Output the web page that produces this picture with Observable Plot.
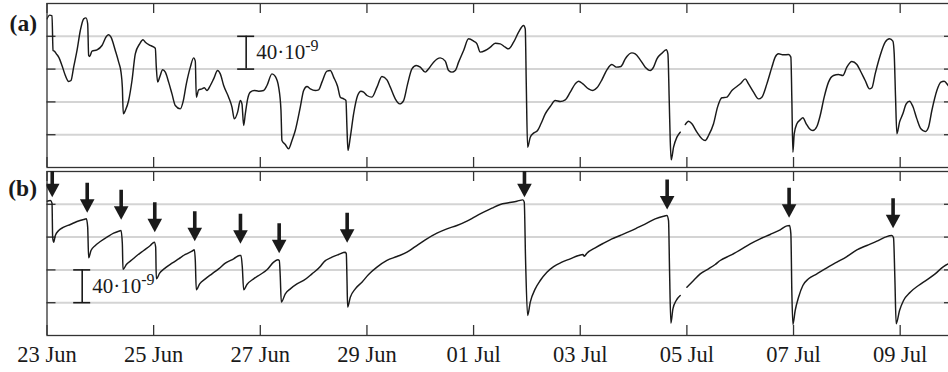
<!DOCTYPE html>
<html><head><meta charset="utf-8">
<script src="https://cdn.jsdelivr.net/npm/d3@7"></script>
<script src="https://cdn.jsdelivr.net/npm/@observablehq/plot@0.6"></script>
<style>
html,body{margin:0;padding:0;background:#fff;overflow:hidden;}
#wrap{width:948px;height:372px;overflow:hidden;position:relative;background:#fff;}
#wrap svg{display:block;}
</style></head><body><div id="wrap"></div>
<script>
// ---------- data (days after 23 Jun 00:00 UTC, values in units of 1e-9) ----------
const tickDays = [0, 2, 4, 6, 8, 10, 12, 14, 16];
const tickLabels = ["23 Jun", "25 Jun", "27 Jun", "29 Jun", "01 Jul", "03 Jul", "05 Jul", "07 Jul", "09 Jul"];
const gridValues = [40, 80, 120, 160];
const panelLabels = ["(a)", "(b)"];
const scaleText = "40·10-9";
const scaleDayA = 3.735, scaleLoA = 120, scaleHiA = 160;
const scaleDayB = 0.660, scaleLoB = 40, scaleHiB = 80;

const aDay = [0.000,0.050,0.094,0.113,0.138,0.175,0.219,0.281,0.344,0.406,0.450,0.500,0.563,0.625,0.688,0.731,0.763,0.781,0.800,0.844,0.938,1.031,1.113,1.156,1.200,1.281,1.344,1.388,1.413,1.431,1.469,1.531,1.594,1.656,1.738,1.800,1.844,1.938,2.031,2.050,2.075,2.113,2.169,2.219,2.281,2.344,2.406,2.500,2.550,2.613,2.688,2.750,2.781,2.800,2.844,2.906,2.950,3.000,3.063,3.125,3.200,3.250,3.313,3.406,3.469,3.513,3.575,3.625,3.656,3.688,3.719,3.763,3.813,3.888,3.969,4.063,4.125,4.219,4.281,4.344,4.388,4.406,4.469,4.531,4.594,4.656,4.750,4.813,4.875,4.938,5.031,5.094,
5.156,5.250,5.313,5.375,5.450,5.500,5.563,5.606,5.625,5.644,5.688,5.750,5.825,5.888,5.938,6.000,6.094,6.188,6.281,6.375,6.438,6.531,6.613,6.688,6.763,6.844,6.925,7.000,7.094,7.156,7.250,7.375,7.469,7.531,7.594,7.656,7.719,7.813,7.906,8.000,8.063,8.125,8.219,8.313,8.406,8.500,8.594,8.656,8.750,8.844,8.938,8.969,8.988,9.013,9.063,9.125,9.200,9.263,9.344,9.438,9.531,9.625,9.719,9.813,9.906,9.969,10.050,10.156,10.238,10.313,10.406,10.500,10.594,10.675,10.763,10.844,
10.875,10.969,11.031,11.125,11.219,11.313,11.375,11.438,11.531,11.613,11.644,11.669,11.688,11.706,11.750,11.813,11.875,11.920,11.969,12.031,12.094,12.188,12.281,12.344,12.406,12.500,12.575,12.656,12.750,12.844,12.938,13.013,13.094,13.156,13.250,13.344,13.406,13.500,13.594,13.656,13.719,13.813,13.906,13.950,13.969,13.988,14.013,14.063,14.125,14.175,14.238,14.300,14.363,14.438,14.500,14.575,14.656,14.750,14.844,14.925,15.000,15.094,15.188,15.250,15.344,15.425,15.469,15.531,15.625,15.719,15.800,15.863,15.888,15.913,15.938,15.988,16.050,16.113,16.175,16.238,16.313,16.388,16.469,16.531,16.594,16.688,16.763,16.825,16.900,16.938];
const aVal = [181.3,185.8,185.0,142.7,141.9,138.6,134.6,124.4,112.2,104.9,106.1,122.4,142.7,167.1,181.3,182.5,175.2,136.6,135.4,141.9,143.5,148.8,159.8,161.8,158.9,142.7,128.5,116.3,98.0,65.4,69.5,81.7,106.1,138.6,150.8,155.7,152.8,148.8,145.5,122.4,104.1,110.2,119.1,116.3,104.1,89.8,75.6,71.5,79.7,102.0,122.4,133.7,129.7,85.8,94.7,95.9,97.2,93.9,100.0,108.1,118.3,114.2,100.0,85.8,73.6,59.3,67.5,81.7,77.6,51.2,65.4,83.7,91.9,93.9,93.1,93.9,100.0,114.2,111.0,98.0,69.5,32.9,28.0,22.8,32.9,45.1,73.6,93.9,98.8,95.9,93.9,94.7,
104.1,117.5,118.3,110.2,98.8,85.8,83.7,81.7,49.2,20.7,37.0,65.4,87.8,93.1,91.9,87.8,85.8,98.0,111.0,106.9,98.0,83.7,77.6,81.7,102.0,120.3,124.4,122.4,116.3,120.3,128.5,133.7,129.7,118.3,116.3,118.3,128.5,142.7,156.9,154.1,150.8,140.7,142.7,146.7,151.6,150.8,146.7,144.7,152.8,165.0,173.2,169.1,102.0,24.8,37.0,41.9,45.1,53.3,65.4,74.4,81.7,80.5,82.5,91.9,102.0,105.3,102.0,95.9,93.9,97.2,106.9,119.1,125.6,122.4,123.2,132.5,
135.4,139.8,138.6,131.3,122.4,118.3,122.4,132.5,139.4,143.5,138.6,81.7,32.9,9.3,24.8,37.0,43.1,null,52.4,56.5,53.3,43.1,35.0,32.9,39.0,53.3,73.6,85.0,85.8,93.9,98.8,102.8,108.1,102.0,91.9,83.7,85.8,102.0,122.4,134.6,138.6,137.4,137.8,134.6,81.7,18.7,41.1,53.3,58.1,60.6,53.3,47.2,45.1,50.0,63.4,85.8,104.1,112.2,113.4,112.2,122.4,129.3,125.6,118.3,106.1,95.9,97.2,114.2,136.6,152.8,156.9,154.1,138.6,85.8,41.1,55.3,65.4,77.6,80.9,74.4,59.3,47.2,43.9,49.2,69.5,93.9,104.1,105.3,100.0,97.2];

const bDay = [0.000,0.063,0.094,0.106,0.125,0.156,0.219,0.313,0.438,0.563,0.688,0.738,0.763,0.781,0.825,0.906,1.000,1.125,1.250,1.344,1.388,1.413,1.425,1.488,1.594,1.688,1.813,1.938,2.013,2.038,2.050,2.113,2.219,2.344,2.469,2.594,2.719,2.763,2.781,2.800,2.863,2.969,3.094,3.219,3.344,3.500,3.613,3.638,3.663,3.688,3.750,3.875,4.000,4.125,4.250,4.331,4.356,4.375,4.394,4.469,4.563,4.688,4.813,4.969,5.125,
5.188,5.344,5.469,5.594,5.613,5.625,5.638,5.688,5.781,5.906,6.031,6.188,6.375,6.563,6.750,6.906,7.094,7.313,7.500,7.688,7.875,8.031,8.188,8.344,8.500,8.656,8.813,8.925,8.950,8.975,9.013,9.063,9.156,9.250,9.375,9.500,9.656,9.813,9.969,10.050,10.075,10.125,10.281,10.438,10.594,10.750,
10.938,11.094,11.250,11.406,11.563,11.625,11.656,11.675,11.700,11.738,11.800,11.875,11.930,12.000,12.125,12.250,12.406,12.531,12.625,12.813,13.000,13.188,13.375,13.563,13.750,13.875,13.925,13.950,13.969,13.988,14.031,14.094,14.175,14.281,14.438,14.625,14.813,15.000,15.188,15.375,15.563,15.719,15.844,15.875,15.900,15.925,15.988,16.063,16.188,16.344,16.500,16.656,16.813,16.900,16.969];
const bVal = [163.8,164.6,161.4,119.9,113.8,122.0,128.0,132.1,135.4,139.0,141.5,142.3,132.1,94.7,103.7,109.8,114.6,119.9,124.8,127.2,128.0,111.8,80.5,86.6,92.3,97.6,103.7,109.8,113.8,107.7,69.1,76.0,82.5,88.2,93.5,98.8,102.8,104.5,91.5,55.7,63.0,69.1,75.2,81.3,88.2,93.5,97.6,97.6,83.3,55.7,62.2,69.1,74.4,80.1,89.4,92.3,91.5,71.1,40.7,50.8,56.9,63.0,67.1,75.2,84.1,
89.4,95.5,98.8,101.6,99.6,71.1,34.6,46.7,56.9,65.0,74.4,83.3,91.5,96.3,101.6,108.5,116.7,124.8,130.1,134.1,139.4,145.1,150.4,155.3,159.8,161.8,163.8,165.4,162.6,91.5,24.4,40.7,56.9,67.1,77.2,84.1,89.4,93.5,97.6,98.8,96.7,100.4,106.9,112.6,117.9,122.0,
127.2,132.1,137.0,142.3,145.5,146.3,140.2,79.3,15.0,32.5,42.7,48.8,null,58.9,67.1,75.2,81.3,86.6,91.5,97.6,104.5,111.8,117.9,123.2,128.9,133.7,134.1,124.0,50.8,13.4,30.5,46.7,61.0,69.1,75.2,82.5,89.4,96.3,104.5,109.8,115.0,119.9,122.0,119.1,71.1,14.2,30.5,42.7,52.8,61.0,67.9,75.2,84.1,87.4,89.4];

// arrows in panel (b): day and tip value
const arrowDay = [0.098, 0.754, 1.391, 2.021, 2.771, 3.628, 4.354, 5.629, 8.954, 11.630, 13.917, 15.867];
const arrowTip = [168.7, 149.6, 141.1, 126.0, 115.0, 111.8, 100.4, 113.0, 168.7, 153.7, 143.5, 130.9];

// ---------- layout ----------
const START = Date.UTC(2015, 5, 23);
const DAY = 864e5;
const END_DAY = 17;
const W = 953, ML = 46.5, MR = 0;
const FRAME_H = 164, Y_MAX = 200;
const pxPerDay = (W - ML - MR) / END_DAY;
const pxPerUnit = FRAME_H / Y_MAX;
const toDate = d => new Date(START + d * DAY);
const serif = "'Liberation Serif', 'Times New Roman', Times, serif";
const INK = "#1a1a1a";

const tickDates = tickDays.map(toDate);
const labelByTime = new Map(tickDates.map((t, i) => [+t, tickLabels[i]]));
const xDomain = [toDate(0), toDate(END_DAY)];

const downTriangle = {
  draw(ctx) { const w = 7.3, h = 13.5; ctx.moveTo(0, 0); ctx.lineTo(-w, -h); ctx.lineTo(w, -h); ctx.closePath(); }
};

function panel({height, marginTop, marginBottom, days, vals, label, labelDy, sDay, sLo, sHi, arrows, axis}) {
  const series = days.map((d, i) => ({t: toDate(d), v: vals[i]}));
  const tickLenY = 10 / pxPerUnit;          // inward x-tick length (value units)
  const tickLenX = 9 / pxPerDay * DAY;      // inward y-tick length (ms)
  const capHalf = 8.5 / pxPerDay;           // scale-bar cap half-width (days)
  const marks = [
    Plot.ruleY(gridValues, {stroke: "#d4d4d4", strokeWidth: 2}),
    Plot.ruleX(tickDates, {x: d => d, y1: Y_MAX, y2: Y_MAX - tickLenY, stroke: "#333", strokeWidth: 1.3}),
    Plot.ruleX(tickDates, {x: d => d, y1: 0, y2: tickLenY, stroke: "#333", strokeWidth: 1.3}),
    Plot.ruleY(gridValues, {y: d => d, x1: xDomain[0], x2: new Date(+xDomain[0] + tickLenX), stroke: "#333", strokeWidth: 1.3}),
    Plot.ruleY(gridValues, {y: d => d, x1: xDomain[1], x2: new Date(+xDomain[1] - tickLenX), stroke: "#333", strokeWidth: 1.3}),
    Plot.line(series, {x: "t", y: "v", stroke: INK, strokeWidth: 1.45, curve: "monotone-x", clip: true}),
    Plot.ruleX([sDay], {x: d => toDate(d), y1: sLo, y2: sHi, stroke: INK, strokeWidth: 1.6}),
    Plot.ruleY([sLo, sHi], {y: d => d, x1: toDate(sDay - capHalf), x2: toDate(sDay + capHalf), stroke: INK, strokeWidth: 1.6}),
    Plot.text([scaleText], {x: toDate(sDay), y: (sLo + sHi) / 2, text: d => d, dx: 10, textAnchor: "start", lineAnchor: "middle", fontSize: 21, fontFamily: serif, fill: INK}),
    Plot.text([label], {frameAnchor: "top-left", text: d => d, dx: -10, dy: labelDy, textAnchor: "end", lineAnchor: "middle", fontSize: 23.5, fontWeight: "bold", fontFamily: serif, fill: INK}),
    Plot.frame({stroke: "#333", strokeWidth: 1.3})
  ];
  if (arrows) {
    const shaft = 36, inHead = 8;
    const arr = arrowDay.map((d, i) => ({t: toDate(d), tip: arrowTip[i]}));
    marks.push(
      Plot.ruleX(arr, {x: "t", y1: d => d.tip + inHead, y2: d => d.tip + shaft, stroke: INK, strokeWidth: 3.6, clip: true}),
      Plot.dot(arr, {x: "t", y: "tip", symbol: downTriangle, r: 3, fill: INK, stroke: "none", clip: true})
    );
  }
  if (axis) {
    marks.push(Plot.axisX({ticks: tickDates, tickSize: 0, tickPadding: 11, fontSize: 22.5, fontFamily: serif, fill: INK, label: null,
      tickFormat: d => labelByTime.get(+d)}));
  }
  const svg = Plot.plot({
    width: W, height, marginTop, marginBottom, marginLeft: ML, marginRight: MR,
    style: {maxWidth: "none", fontFamily: serif, background: "transparent", overflow: "visible"},
    x: {type: "utc", domain: xDomain, axis: null},
    y: {domain: [0, Y_MAX], axis: null},
    marks
  });
  // superscript exponent
  svg.querySelectorAll("text").forEach(t => {
    if (t.textContent === scaleText) {
      t.textContent = "40·10";
      const ts = document.createElementNS("http://www.w3.org/2000/svg", "tspan");
      ts.setAttribute("dy", "-8.5");
      ts.setAttribute("font-size", "16");
      ts.textContent = "-9";
      t.appendChild(ts);
    }
  });
  return svg;
}

const wrap = document.getElementById("wrap");
wrap.appendChild(panel({height: 168, marginTop: 3, marginBottom: 1, days: aDay, vals: aVal, label: panelLabels[0], labelDy: 19.5,
  sDay: scaleDayA, sLo: scaleLoA, sHi: scaleHiA, arrows: false, axis: false}));
wrap.appendChild(panel({height: 204, marginTop: 3, marginBottom: 37, days: bDay, vals: bVal, label: panelLabels[1], labelDy: 17,
  sDay: scaleDayB, sLo: scaleLoB, sHi: scaleHiB, arrows: true, axis: true}));
</script></body></html>
